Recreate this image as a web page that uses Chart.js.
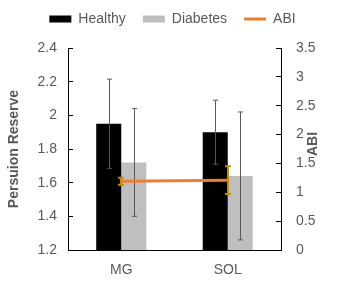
<!DOCTYPE html>
<html><head><meta charset="utf-8">
<script src="https://cdn.jsdelivr.net/npm/chart.js@4.4.1/dist/chart.umd.min.js"></script>
<style>html,body{margin:0;padding:0;background:#fff}#wrap{width:337px;height:283px;position:relative}</style>
</head><body><div id="wrap"><canvas id="c"></canvas></div>
<script>
const categories = ['MG', 'SOL'];
const healthy = [1.95, 1.90];
const healthyErr = [0.265, 0.19];
const diabetes = [1.72, 1.64];
const diabetesErr = [0.32, 0.38];
const abi = [1.19, 1.21];
const abiErr = [0.06, 0.24];
const leftAxisTitle = 'Persuion Reserve';
const rightAxisTitle = 'ABI';

const GRAY = '#595959';
const FONT = "'Liberation Sans', Arial, sans-serif";
Chart.defaults.color = GRAY;
Chart.defaults.font.family = FONT;
Chart.defaults.font.size = 14;

const errorBars = {
  id: 'errorBars',
  afterDatasetDraw(chart, args) {
    const ds = chart.data.datasets[args.index];
    if (!ds.errors) return;
    const meta = args.meta;
    const scale = chart.scales[meta.yAxisID];
    const ctx = chart.ctx;
    ctx.save();
    ctx.strokeStyle = ds.errorColor;
    ctx.lineWidth = ds.errorWidth;
    meta.data.forEach((el, i) => {
      const v = ds.data[i], e = ds.errors[i];
      const x = Math.round(el.x) + (ds.errorWidth % 2 ? 0.5 : 0);
      const yt = scale.getPixelForValue(v + e);
      const yb = scale.getPixelForValue(v - e);
      const c = ds.errorCap;
      ctx.beginPath();
      ctx.moveTo(x, yt); ctx.lineTo(x, yb);
      ctx.moveTo(x - c, yt); ctx.lineTo(x + c, yt);
      ctx.moveTo(x - c, yb); ctx.lineTo(x + c, yb);
      ctx.stroke();
    });
    ctx.restore();
  }
};

const legendSpace = {
  id: 'legendSpace',
  beforeLayout(chart) {
    const lg = chart.legend;
    if (lg && !lg._spacePatched) {
      const f = lg.fit.bind(lg);
      lg.fit = function () { f(); this.height += 12; };
      lg._spacePatched = true;
    }
  }
};

const rightTitle = {
  id: 'rightTitle',
  afterDraw(chart) {
    const ctx = chart.ctx;
    const s = chart.scales.y1;
    ctx.save();
    ctx.fillStyle = GRAY;
    ctx.font = "bold 14px " + FONT;
    ctx.textAlign = 'center';
    ctx.textBaseline = 'middle';
    ctx.translate(s.right - 24, (chart.chartArea.top + chart.chartArea.bottom) / 2 - 5);
    ctx.rotate(-Math.PI / 2);
    ctx.fillText(rightAxisTitle, 0, 0);
    ctx.restore();
  }
};

const fmt = v => String(Number(Number(v).toFixed(2)));

new Chart(document.getElementById('c'), {
  type: 'bar',
  data: {
    labels: categories,
    datasets: [
      { label: 'Healthy', data: healthy, backgroundColor: '#000000', yAxisID: 'y', order: 1,
        errors: healthyErr, errorColor: GRAY, errorWidth: 1, errorCap: 2.5,
        categoryPercentage: 0.47, barPercentage: 1.0 },
      { label: 'Diabetes', data: diabetes, backgroundColor: '#BFBFBF', yAxisID: 'y', order: 1,
        errors: diabetesErr, errorColor: GRAY, errorWidth: 1, errorCap: 2.5,
        categoryPercentage: 0.47, barPercentage: 1.0 },
      { label: 'ABI', type: 'line', data: abi, borderColor: '#ED7D31', backgroundColor: '#ED7D31',
        borderWidth: 3, pointRadius: 0, yAxisID: 'y1', order: 0,
        errors: abiErr, errorColor: '#BF9000', errorWidth: 2, errorCap: 3 }
    ]
  },
  options: {
    responsive: true,
    maintainAspectRatio: false,
    animation: false,
    layout: { padding: { top: -5, left: 8, right: 0, bottom: 0 } },
    plugins: {
      tooltip: { enabled: false },
      legend: {
        position: 'top',
        labels: {
          usePointStyle: true,
          pointStyleWidth: 22,
          boxHeight: 7,
          padding: 17,
          color: GRAY,
          font: { size: 14, family: FONT },
          sort: (a, b) => a.datasetIndex - b.datasetIndex,
          generateLabels(chart) {
            const items = Chart.defaults.plugins.legend.labels.generateLabels(chart);
            items.forEach(it => {
              const ds = chart.data.datasets[it.datasetIndex];
              if (ds.type === 'line') {
                it.pointStyle = 'line';
                it.strokeStyle = ds.borderColor;
                it.lineWidth = 3;
              } else {
                it.pointStyle = 'rect';
                it.lineWidth = 0;
                it.fillStyle = ds.backgroundColor;
              }
            });
            return items;
          }
        }
      }
    },
    scales: {
      x: {
        grid: { display: false, drawTicks: false },
        border: { display: true, color: '#000', width: 1 },
        ticks: { padding: 12, color: GRAY, font: { size: 14 } },
        afterFit: s => { s.height = 33; }
      },
      y: {
        position: 'left',
        min: 1.2, max: 2.4,
        ticks: { stepSize: 0.2, padding: 16, color: GRAY, font: { size: 14 }, callback: fmt },
        grid: { drawOnChartArea: false, drawTicks: true, tickLength: -5, color: '#000', tickWidth: 1 },
        border: { display: true, color: '#000', width: 1 },
        title: { display: true, text: leftAxisTitle, color: GRAY, font: { size: 14, weight: 'bold' }, padding: { top: -2, bottom: 0 } },
        afterFit: s => { s.width = 60; }
      },
      y1: {
        position: 'right',
        min: 0, max: 3.5,
        ticks: { stepSize: 0.5, padding: 20, color: GRAY, font: { size: 14 }, callback: fmt },
        grid: { drawOnChartArea: false, drawTicks: true, tickLength: -5, color: '#000', tickWidth: 1 },
        border: { display: true, color: '#000', width: 1 },
        afterFit: s => { s.width = 56; }
      }
    }
  },
  plugins: [legendSpace, errorBars, rightTitle]
});
</script>
</body></html>
